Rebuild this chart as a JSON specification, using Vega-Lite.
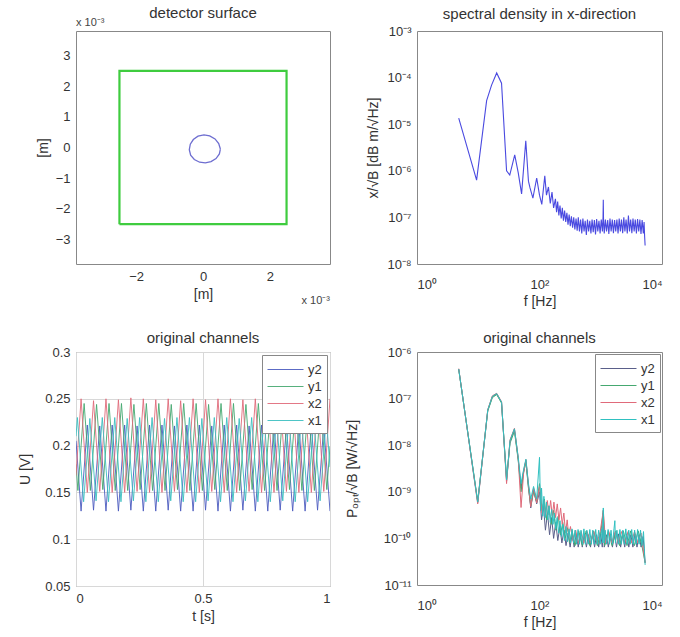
{
  "$schema": "https://vega.github.io/schema/vega-lite/v6.json",
  "background": "white",
  "padding": {"left": 18, "top": 5, "right": 5, "bottom": 5},
  "config": {
    "font": "Liberation Sans",
    "view": {"stroke": "#888", "strokeWidth": 1},
    "axis": {"grid": false, "ticks": false, "domain": false, "labelFontSize": 13, "titleFontSize": 14, "titleFontWeight": "normal", "labelColor": "#333", "titleColor": "#333", "labelPadding": 6, "labelOverlap": false},
    "title": {"fontSize": 15, "fontWeight": "normal", "color": "#333", "frame": "group"}
  },
  "datasets": {
    "square": [
      {"x": -2.5, "y": -2.5, "i": 0}, {"x": 2.5, "y": -2.5, "i": 1}, {"x": 2.5, "y": 2.5, "i": 2}, {"x": -2.5, "y": 2.5, "i": 3}, {"x": -2.5, "y": -2.5, "i": 4}
    ],
    "circle": [
      {"x": 0.52, "y": -0.05, "i": 0}, {"x": 0.47, "y": 0.13, "i": 1}, {"x": 0.36, "y": 0.28, "i": 2}, {"x": 0.2, "y": 0.38, "i": 3},
      {"x": 0.03, "y": 0.41, "i": 4}, {"x": -0.15, "y": 0.37, "i": 5}, {"x": -0.29, "y": 0.26, "i": 6}, {"x": -0.38, "y": 0.11, "i": 7},
      {"x": -0.41, "y": -0.07, "i": 8}, {"x": -0.37, "y": -0.25, "i": 9}, {"x": -0.26, "y": -0.39, "i": 10}, {"x": -0.1, "y": -0.48, "i": 11},
      {"x": 0.07, "y": -0.5, "i": 12}, {"x": 0.24, "y": -0.46, "i": 13}, {"x": 0.39, "y": -0.36, "i": 14}, {"x": 0.49, "y": -0.21, "i": 15},
      {"x": 0.52, "y": -0.05, "i": 16}
    ],
    "tr": [
      {"f": 4.8, "v": 1.35e-5}, {"f": 9.4, "v": 6.3e-7}, {"f": 13.7, "v": 3.2e-5}, {"f": 16.5, "v": 6.9e-5}, {"f": 20, "v": 1.26e-4},
      {"f": 24, "v": 7.6e-5}, {"f": 29, "v": 1.0e-6}, {"f": 32.7, "v": 8.1e-7}, {"f": 39.4, "v": 2.2e-6}, {"f": 45, "v": 9e-7},
      {"f": 51, "v": 3.2e-7}, {"f": 59.7, "v": 4.4e-6}, {"f": 66, "v": 6e-7}, {"f": 70, "v": 4.3e-7}, {"f": 78, "v": 2.6e-7},
      {"f": 90, "v": 7e-7}, {"f": 100, "v": 3e-7}, {"f": 109, "v": 1.9e-7}, {"f": 122, "v": 7.8e-7}, {"f": 130, "v": 3e-7},
      {"f": 140, "v": 4.5e-7}, {"f": 150, "v": 2e-7}, {"f": 160, "v": 3.5e-7}, {"f": 170, "v": 1.6e-7}, {"f": 182, "v": 2.5e-7},
      {"f": 190, "v": 1.3e-7}, {"f": 198, "v": 2.2e-7}, {"f": 207, "v": 1.1e-7}, {"f": 216, "v": 1.8e-7}, {"f": 226, "v": 9.5e-8},
      {"f": 236, "v": 1.6e-7}, {"f": 246, "v": 8.5e-8}, {"f": 257, "v": 1.4e-7}, {"f": 268, "v": 8e-8}, {"f": 280, "v": 1.25e-7},
      {"f": 292, "v": 7e-8}, {"f": 305, "v": 1.15e-7}, {"f": 318, "v": 6.5e-8}, {"f": 332, "v": 1.05e-7}, {"f": 347, "v": 6e-8},
      {"f": 362, "v": 1.0e-7}, {"f": 378, "v": 5.5e-8}, {"f": 395, "v": 9.5e-8}, {"f": 412, "v": 5.2e-8}, {"f": 430, "v": 1.0e-7},
      {"f": 449, "v": 5e-8}, {"f": 469, "v": 9e-8}, {"f": 490, "v": 4.5e-8}, {"f": 511, "v": 9.5e-8}, {"f": 534, "v": 5e-8},
      {"f": 557, "v": 8.5e-8}, {"f": 582, "v": 4.2e-8}, {"f": 607, "v": 9e-8}, {"f": 634, "v": 5e-8}, {"f": 662, "v": 8.5e-8},
      {"f": 691, "v": 4.5e-8}, {"f": 722, "v": 9e-8}, {"f": 753, "v": 4.8e-8}, {"f": 787, "v": 8.8e-8}, {"f": 821, "v": 4.3e-8},
      {"f": 857, "v": 9.2e-8}, {"f": 895, "v": 5e-8}, {"f": 935, "v": 8.5e-8}, {"f": 976, "v": 4.5e-8}, {"f": 1019, "v": 9e-8},
      {"f": 1064, "v": 5e-8}, {"f": 1090, "v": 1.0e-7}, {"f": 1100, "v": 2.4e-7}, {"f": 1110, "v": 9e-8}, {"f": 1140, "v": 4.5e-8},
      {"f": 1190, "v": 9e-8}, {"f": 1243, "v": 5e-8}, {"f": 1298, "v": 8.8e-8}, {"f": 1355, "v": 4.4e-8}, {"f": 1415, "v": 9.5e-8},
      {"f": 1478, "v": 5e-8}, {"f": 1543, "v": 9e-8}, {"f": 1611, "v": 4.6e-8}, {"f": 1682, "v": 8.8e-8}, {"f": 1757, "v": 5e-8},
      {"f": 1835, "v": 9e-8}, {"f": 1916, "v": 4.5e-8}, {"f": 2000, "v": 9.5e-8}, {"f": 2090, "v": 5e-8}, {"f": 2180, "v": 9e-8},
      {"f": 2280, "v": 4.6e-8}, {"f": 2380, "v": 1.0e-7}, {"f": 2480, "v": 5e-8}, {"f": 2590, "v": 9e-8}, {"f": 2710, "v": 4.5e-8},
      {"f": 2830, "v": 1.1e-7}, {"f": 2950, "v": 5e-8}, {"f": 3080, "v": 9e-8}, {"f": 3220, "v": 4.6e-8}, {"f": 3360, "v": 9.5e-8},
      {"f": 3510, "v": 5e-8}, {"f": 3660, "v": 9e-8}, {"f": 3820, "v": 4.5e-8}, {"f": 3990, "v": 9.2e-8}, {"f": 4170, "v": 5e-8},
      {"f": 4350, "v": 9e-8}, {"f": 4540, "v": 4.4e-8}, {"f": 4740, "v": 8.8e-8}, {"f": 4950, "v": 4.5e-8}, {"f": 5100, "v": 8e-8},
      {"f": 5200, "v": 4e-8}, {"f": 5300, "v": 2.5e-8}
    ],
    "bl": [
      {"c": "y2", "t": 0, "u": 0.205}, {"c": "y2", "t": 0.02, "u": 0.13}, {"c": "y2", "t": 0.0445, "u": 0.222}, {"c": "y2", "t": 0.069, "u": 0.131}, {"c": "y2", "t": 0.0935, "u": 0.221},
      {"c": "y2", "t": 0.118, "u": 0.13}, {"c": "y2", "t": 0.1425, "u": 0.222}, {"c": "y2", "t": 0.167, "u": 0.13}, {"c": "y2", "t": 0.1915, "u": 0.222}, {"c": "y2", "t": 0.216, "u": 0.131},
      {"c": "y2", "t": 0.2405, "u": 0.221}, {"c": "y2", "t": 0.265, "u": 0.13}, {"c": "y2", "t": 0.2895, "u": 0.222}, {"c": "y2", "t": 0.314, "u": 0.13}, {"c": "y2", "t": 0.3385, "u": 0.222},
      {"c": "y2", "t": 0.363, "u": 0.131}, {"c": "y2", "t": 0.3875, "u": 0.221}, {"c": "y2", "t": 0.412, "u": 0.13}, {"c": "y2", "t": 0.4365, "u": 0.222}, {"c": "y2", "t": 0.461, "u": 0.13},
      {"c": "y2", "t": 0.4855, "u": 0.222}, {"c": "y2", "t": 0.51, "u": 0.131}, {"c": "y2", "t": 0.5345, "u": 0.221}, {"c": "y2", "t": 0.559, "u": 0.13}, {"c": "y2", "t": 0.5835, "u": 0.222},
      {"c": "y2", "t": 0.608, "u": 0.13}, {"c": "y2", "t": 0.6325, "u": 0.222}, {"c": "y2", "t": 0.657, "u": 0.131}, {"c": "y2", "t": 0.6815, "u": 0.221}, {"c": "y2", "t": 0.706, "u": 0.13},
      {"c": "y2", "t": 0.7305, "u": 0.222}, {"c": "y2", "t": 0.755, "u": 0.13}, {"c": "y2", "t": 0.7795, "u": 0.222}, {"c": "y2", "t": 0.804, "u": 0.131}, {"c": "y2", "t": 0.8285, "u": 0.221},
      {"c": "y2", "t": 0.853, "u": 0.13}, {"c": "y2", "t": 0.8775, "u": 0.222}, {"c": "y2", "t": 0.902, "u": 0.13}, {"c": "y2", "t": 0.9265, "u": 0.222}, {"c": "y2", "t": 0.951, "u": 0.131},
      {"c": "y2", "t": 0.9755, "u": 0.221}, {"c": "y2", "t": 1.0, "u": 0.13},
      {"c": "y1", "t": 0, "u": 0.18}, {"c": "y1", "t": 0.0075, "u": 0.152}, {"c": "y1", "t": 0.032, "u": 0.245}, {"c": "y1", "t": 0.0565, "u": 0.152}, {"c": "y1", "t": 0.081, "u": 0.244},
      {"c": "y1", "t": 0.1055, "u": 0.153}, {"c": "y1", "t": 0.13, "u": 0.245}, {"c": "y1", "t": 0.1545, "u": 0.152}, {"c": "y1", "t": 0.179, "u": 0.245}, {"c": "y1", "t": 0.2035, "u": 0.152},
      {"c": "y1", "t": 0.228, "u": 0.244}, {"c": "y1", "t": 0.2525, "u": 0.153}, {"c": "y1", "t": 0.277, "u": 0.245}, {"c": "y1", "t": 0.3015, "u": 0.152}, {"c": "y1", "t": 0.326, "u": 0.245},
      {"c": "y1", "t": 0.3505, "u": 0.152}, {"c": "y1", "t": 0.375, "u": 0.244}, {"c": "y1", "t": 0.3995, "u": 0.153}, {"c": "y1", "t": 0.424, "u": 0.245}, {"c": "y1", "t": 0.4485, "u": 0.152},
      {"c": "y1", "t": 0.473, "u": 0.245}, {"c": "y1", "t": 0.4975, "u": 0.152}, {"c": "y1", "t": 0.522, "u": 0.244}, {"c": "y1", "t": 0.5465, "u": 0.153}, {"c": "y1", "t": 0.571, "u": 0.245},
      {"c": "y1", "t": 0.5955, "u": 0.152}, {"c": "y1", "t": 0.62, "u": 0.245}, {"c": "y1", "t": 0.6445, "u": 0.152}, {"c": "y1", "t": 0.669, "u": 0.244}, {"c": "y1", "t": 0.6935, "u": 0.153},
      {"c": "y1", "t": 0.718, "u": 0.245}, {"c": "y1", "t": 0.7425, "u": 0.152}, {"c": "y1", "t": 0.767, "u": 0.245}, {"c": "y1", "t": 0.7915, "u": 0.152}, {"c": "y1", "t": 0.816, "u": 0.244},
      {"c": "y1", "t": 0.8405, "u": 0.153}, {"c": "y1", "t": 0.865, "u": 0.245}, {"c": "y1", "t": 0.8895, "u": 0.152}, {"c": "y1", "t": 0.914, "u": 0.245}, {"c": "y1", "t": 0.9385, "u": 0.152},
      {"c": "y1", "t": 0.963, "u": 0.244}, {"c": "y1", "t": 0.9875, "u": 0.153}, {"c": "y1", "t": 1.0, "u": 0.199},
      {"c": "x2", "t": 0, "u": 0.168}, {"c": "x2", "t": 0.02, "u": 0.25}, {"c": "x2", "t": 0.0445, "u": 0.15}, {"c": "x2", "t": 0.069, "u": 0.248}, {"c": "x2", "t": 0.0935, "u": 0.151},
      {"c": "x2", "t": 0.118, "u": 0.25}, {"c": "x2", "t": 0.1425, "u": 0.15}, {"c": "x2", "t": 0.167, "u": 0.249}, {"c": "x2", "t": 0.1915, "u": 0.15}, {"c": "x2", "t": 0.216, "u": 0.251},
      {"c": "x2", "t": 0.2405, "u": 0.151}, {"c": "x2", "t": 0.265, "u": 0.25}, {"c": "x2", "t": 0.2895, "u": 0.15}, {"c": "x2", "t": 0.314, "u": 0.249}, {"c": "x2", "t": 0.3385, "u": 0.15},
      {"c": "x2", "t": 0.363, "u": 0.25}, {"c": "x2", "t": 0.3875, "u": 0.151}, {"c": "x2", "t": 0.412, "u": 0.248}, {"c": "x2", "t": 0.4365, "u": 0.15}, {"c": "x2", "t": 0.461, "u": 0.25},
      {"c": "x2", "t": 0.4855, "u": 0.15}, {"c": "x2", "t": 0.51, "u": 0.249}, {"c": "x2", "t": 0.5345, "u": 0.151}, {"c": "x2", "t": 0.559, "u": 0.25}, {"c": "x2", "t": 0.5835, "u": 0.15},
      {"c": "x2", "t": 0.608, "u": 0.25}, {"c": "x2", "t": 0.6325, "u": 0.15}, {"c": "x2", "t": 0.657, "u": 0.249}, {"c": "x2", "t": 0.6815, "u": 0.151}, {"c": "x2", "t": 0.706, "u": 0.25},
      {"c": "x2", "t": 0.7305, "u": 0.15}, {"c": "x2", "t": 0.755, "u": 0.248}, {"c": "x2", "t": 0.7795, "u": 0.15}, {"c": "x2", "t": 0.804, "u": 0.25}, {"c": "x2", "t": 0.8285, "u": 0.151},
      {"c": "x2", "t": 0.853, "u": 0.25}, {"c": "x2", "t": 0.8775, "u": 0.15}, {"c": "x2", "t": 0.902, "u": 0.249}, {"c": "x2", "t": 0.9265, "u": 0.15}, {"c": "x2", "t": 0.951, "u": 0.25},
      {"c": "x2", "t": 0.9755, "u": 0.151}, {"c": "x2", "t": 1.0, "u": 0.25},
      {"c": "x1", "t": 0, "u": 0.21}, {"c": "x1", "t": 0.0055, "u": 0.23}, {"c": "x1", "t": 0.03, "u": 0.14}, {"c": "x1", "t": 0.0545, "u": 0.229}, {"c": "x1", "t": 0.079, "u": 0.141},
      {"c": "x1", "t": 0.1035, "u": 0.23}, {"c": "x1", "t": 0.128, "u": 0.14}, {"c": "x1", "t": 0.1525, "u": 0.23}, {"c": "x1", "t": 0.177, "u": 0.14}, {"c": "x1", "t": 0.2015, "u": 0.229},
      {"c": "x1", "t": 0.226, "u": 0.141}, {"c": "x1", "t": 0.2505, "u": 0.23}, {"c": "x1", "t": 0.275, "u": 0.14}, {"c": "x1", "t": 0.2995, "u": 0.23}, {"c": "x1", "t": 0.324, "u": 0.14},
      {"c": "x1", "t": 0.3485, "u": 0.229}, {"c": "x1", "t": 0.373, "u": 0.141}, {"c": "x1", "t": 0.3975, "u": 0.23}, {"c": "x1", "t": 0.422, "u": 0.14}, {"c": "x1", "t": 0.4465, "u": 0.23},
      {"c": "x1", "t": 0.471, "u": 0.14}, {"c": "x1", "t": 0.4955, "u": 0.229}, {"c": "x1", "t": 0.52, "u": 0.141}, {"c": "x1", "t": 0.5445, "u": 0.23}, {"c": "x1", "t": 0.569, "u": 0.14},
      {"c": "x1", "t": 0.5935, "u": 0.23}, {"c": "x1", "t": 0.618, "u": 0.14}, {"c": "x1", "t": 0.6425, "u": 0.229}, {"c": "x1", "t": 0.667, "u": 0.141}, {"c": "x1", "t": 0.6915, "u": 0.23},
      {"c": "x1", "t": 0.716, "u": 0.14}, {"c": "x1", "t": 0.7405, "u": 0.23}, {"c": "x1", "t": 0.765, "u": 0.14}, {"c": "x1", "t": 0.7895, "u": 0.229}, {"c": "x1", "t": 0.814, "u": 0.141},
      {"c": "x1", "t": 0.8385, "u": 0.23}, {"c": "x1", "t": 0.863, "u": 0.14}, {"c": "x1", "t": 0.8875, "u": 0.23}, {"c": "x1", "t": 0.912, "u": 0.14}, {"c": "x1", "t": 0.9365, "u": 0.229},
      {"c": "x1", "t": 0.961, "u": 0.141}, {"c": "x1", "t": 0.9855, "u": 0.23}, {"c": "x1", "t": 1.0, "u": 0.177}
    ],
    "br": [
      {"c": "y2", "f": 4.8, "p": 4.3e-7}, {"c": "y2", "f": 9.8, "p": 5.9e-10}, {"c": "y2", "f": 14.3, "p": 5.6e-8}, {"c": "y2", "f": 17, "p": 1.1e-7}, {"c": "y2", "f": 20, "p": 1.26e-7},
      {"c": "y2", "f": 24, "p": 8.3e-8}, {"c": "y2", "f": 29, "p": 1.7e-9}, {"c": "y2", "f": 33, "p": 1.2e-8}, {"c": "y2", "f": 39, "p": 2.2e-8}, {"c": "y2", "f": 45, "p": 5e-9},
      {"c": "y2", "f": 50, "p": 1.2e-9}, {"c": "y2", "f": 55, "p": 2.8e-9}, {"c": "y2", "f": 60, "p": 4.7e-9}, {"c": "y2", "f": 66, "p": 1.3e-9}, {"c": "y2", "f": 72, "p": 4.5e-10},
      {"c": "y2", "f": 80, "p": 1.1e-9}, {"c": "y2", "f": 90, "p": 5.5e-10}, {"c": "y2", "f": 100, "p": 1.0e-9}, {"c": "y2", "f": 108, "p": 2.5e-10}, {"c": "y2", "f": 116, "p": 5e-10},
      {"c": "y2", "f": 125, "p": 1.5e-10}, {"c": "y2", "f": 135, "p": 3.5e-10}, {"c": "y2", "f": 146, "p": 1.2e-10}, {"c": "y2", "f": 158, "p": 2.8e-10}, {"c": "y2", "f": 170, "p": 1e-10},
      {"c": "y2", "f": 184, "p": 2.2e-10}, {"c": "y2", "f": 199, "p": 9e-11}, {"c": "y2", "f": 215, "p": 1.8e-10}, {"c": "y2", "f": 232, "p": 8e-11}, {"c": "y2", "f": 251, "p": 1.5e-10},
      {"c": "y2", "f": 271, "p": 7e-11}, {"c": "y2", "f": 293, "p": 1.3e-10}, {"c": "y2", "f": 316, "p": 6.5e-11}, {"c": "y2", "f": 341, "p": 1.25e-10}, {"c": "y2", "f": 368, "p": 6.5e-11},
      {"c": "y2", "f": 397, "p": 1.25e-10}, {"c": "y2", "f": 429, "p": 6.5e-11}, {"c": "y2", "f": 463, "p": 1.2e-10}, {"c": "y2", "f": 500, "p": 6.5e-11}, {"c": "y2", "f": 540, "p": 1.25e-10},
      {"c": "y2", "f": 583, "p": 6.5e-11}, {"c": "y2", "f": 630, "p": 1.2e-10}, {"c": "y2", "f": 680, "p": 6.5e-11}, {"c": "y2", "f": 734, "p": 1.25e-10}, {"c": "y2", "f": 793, "p": 6.5e-11},
      {"c": "y2", "f": 856, "p": 1.2e-10}, {"c": "y2", "f": 925, "p": 6.5e-11}, {"c": "y2", "f": 999, "p": 1.25e-10}, {"c": "y2", "f": 1060, "p": 6.5e-11}, {"c": "y2", "f": 1100, "p": 3.5e-10},
      {"c": "y2", "f": 1140, "p": 6.5e-11}, {"c": "y2", "f": 1230, "p": 1.2e-10}, {"c": "y2", "f": 1330, "p": 6.5e-11}, {"c": "y2", "f": 1436, "p": 1.25e-10}, {"c": "y2", "f": 1551, "p": 6.5e-11},
      {"c": "y2", "f": 1675, "p": 1.2e-10}, {"c": "y2", "f": 1809, "p": 6.5e-11}, {"c": "y2", "f": 1954, "p": 1.25e-10}, {"c": "y2", "f": 2110, "p": 6.5e-11}, {"c": "y2", "f": 2279, "p": 1.2e-10},
      {"c": "y2", "f": 2461, "p": 6.5e-11}, {"c": "y2", "f": 2658, "p": 1.25e-10}, {"c": "y2", "f": 2871, "p": 6.5e-11}, {"c": "y2", "f": 3100, "p": 1.2e-10}, {"c": "y2", "f": 3349, "p": 6.5e-11},
      {"c": "y2", "f": 3617, "p": 1.25e-10}, {"c": "y2", "f": 3906, "p": 6.5e-11}, {"c": "y2", "f": 4219, "p": 1.2e-10}, {"c": "y2", "f": 4556, "p": 6.5e-11}, {"c": "y2", "f": 4921, "p": 1.1e-10},
      {"c": "y2", "f": 5300, "p": 3e-11},
      {"c": "y1", "f": 4.8, "p": 4.2e-7}, {"c": "y1", "f": 9.8, "p": 6.3e-10}, {"c": "y1", "f": 14.3, "p": 5.4e-8}, {"c": "y1", "f": 17, "p": 1.05e-7}, {"c": "y1", "f": 20, "p": 1.22e-7},
      {"c": "y1", "f": 24, "p": 8e-8}, {"c": "y1", "f": 29, "p": 1.9e-9}, {"c": "y1", "f": 33, "p": 1.1e-8}, {"c": "y1", "f": 39, "p": 2.0e-8}, {"c": "y1", "f": 45, "p": 4.6e-9},
      {"c": "y1", "f": 50, "p": 1.0e-9}, {"c": "y1", "f": 55, "p": 2.6e-9}, {"c": "y1", "f": 60, "p": 4.3e-9}, {"c": "y1", "f": 66, "p": 1.2e-9}, {"c": "y1", "f": 72, "p": 5e-10},
      {"c": "y1", "f": 80, "p": 1.0e-9}, {"c": "y1", "f": 90, "p": 6e-10}, {"c": "y1", "f": 100, "p": 1.5e-9}, {"c": "y1", "f": 110, "p": 4e-10}, {"c": "y1", "f": 120, "p": 7e-10},
      {"c": "y1", "f": 130, "p": 2.5e-10}, {"c": "y1", "f": 142, "p": 5e-10}, {"c": "y1", "f": 155, "p": 2e-10}, {"c": "y1", "f": 169, "p": 4e-10}, {"c": "y1", "f": 185, "p": 1.5e-10},
      {"c": "y1", "f": 202, "p": 3e-10}, {"c": "y1", "f": 220, "p": 1.2e-10}, {"c": "y1", "f": 240, "p": 2.2e-10}, {"c": "y1", "f": 262, "p": 1e-10}, {"c": "y1", "f": 286, "p": 1.7e-10},
      {"c": "y1", "f": 312, "p": 8e-11}, {"c": "y1", "f": 340, "p": 1.5e-10}, {"c": "y1", "f": 380, "p": 7e-11}, {"c": "y1", "f": 437, "p": 1.45e-10}, {"c": "y1", "f": 503, "p": 7e-11},
      {"c": "y1", "f": 578, "p": 1.45e-10}, {"c": "y1", "f": 665, "p": 7e-11}, {"c": "y1", "f": 765, "p": 1.45e-10}, {"c": "y1", "f": 880, "p": 7e-11}, {"c": "y1", "f": 1012, "p": 1.45e-10},
      {"c": "y1", "f": 1100, "p": 4e-10}, {"c": "y1", "f": 1160, "p": 7e-11}, {"c": "y1", "f": 1334, "p": 1.45e-10}, {"c": "y1", "f": 1534, "p": 7e-11}, {"c": "y1", "f": 1764, "p": 1.45e-10},
      {"c": "y1", "f": 2029, "p": 7e-11}, {"c": "y1", "f": 2333, "p": 1.45e-10}, {"c": "y1", "f": 2683, "p": 7e-11}, {"c": "y1", "f": 3086, "p": 1.45e-10}, {"c": "y1", "f": 3549, "p": 7e-11},
      {"c": "y1", "f": 4081, "p": 1.45e-10}, {"c": "y1", "f": 4693, "p": 7e-11}, {"c": "y1", "f": 5300, "p": 3e-11},
      {"c": "x2", "f": 4.8, "p": 4.4e-7}, {"c": "x2", "f": 9.8, "p": 5.5e-10}, {"c": "x2", "f": 14.3, "p": 5.8e-8}, {"c": "x2", "f": 17, "p": 1.15e-7}, {"c": "x2", "f": 20, "p": 1.3e-7},
      {"c": "x2", "f": 24, "p": 8.6e-8}, {"c": "x2", "f": 29, "p": 1.5e-9}, {"c": "x2", "f": 33, "p": 1.3e-8}, {"c": "x2", "f": 39, "p": 2.3e-8}, {"c": "x2", "f": 45, "p": 5.2e-9},
      {"c": "x2", "f": 50, "p": 4.6e-10}, {"c": "x2", "f": 55, "p": 2.5e-9}, {"c": "x2", "f": 60, "p": 4.9e-9}, {"c": "x2", "f": 66, "p": 1.4e-9}, {"c": "x2", "f": 72, "p": 4.8e-10},
      {"c": "x2", "f": 80, "p": 1.2e-9}, {"c": "x2", "f": 90, "p": 5.8e-10}, {"c": "x2", "f": 100, "p": 1.3e-9}, {"c": "x2", "f": 110, "p": 3.5e-10}, {"c": "x2", "f": 118, "p": 6.5e-10},
      {"c": "x2", "f": 126, "p": 3e-10}, {"c": "x2", "f": 134, "p": 6.5e-10}, {"c": "x2", "f": 143, "p": 3.2e-10}, {"c": "x2", "f": 152, "p": 6.5e-10}, {"c": "x2", "f": 162, "p": 3e-10},
      {"c": "x2", "f": 172, "p": 6e-10}, {"c": "x2", "f": 183, "p": 2.8e-10}, {"c": "x2", "f": 195, "p": 5.5e-10}, {"c": "x2", "f": 208, "p": 2.5e-10}, {"c": "x2", "f": 221, "p": 4.5e-10},
      {"c": "x2", "f": 235, "p": 2e-10}, {"c": "x2", "f": 250, "p": 3.5e-10}, {"c": "x2", "f": 266, "p": 1.3e-10}, {"c": "x2", "f": 283, "p": 2.5e-10}, {"c": "x2", "f": 301, "p": 1.1e-10},
      {"c": "x2", "f": 320, "p": 1.8e-10}, {"c": "x2", "f": 350, "p": 9e-11}, {"c": "x2", "f": 390, "p": 1.5e-10}, {"c": "x2", "f": 430, "p": 8e-11}, {"c": "x2", "f": 480, "p": 1.4e-10},
      {"c": "x2", "f": 530, "p": 8e-11}, {"c": "x2", "f": 600, "p": 1.4e-10}, {"c": "x2", "f": 680, "p": 8e-11}, {"c": "x2", "f": 770, "p": 1.4e-10}, {"c": "x2", "f": 870, "p": 8e-11},
      {"c": "x2", "f": 980, "p": 1.4e-10}, {"c": "x2", "f": 1100, "p": 4e-10}, {"c": "x2", "f": 1200, "p": 8e-11}, {"c": "x2", "f": 1350, "p": 1.4e-10}, {"c": "x2", "f": 1520, "p": 8e-11},
      {"c": "x2", "f": 1720, "p": 1.4e-10}, {"c": "x2", "f": 1940, "p": 8e-11}, {"c": "x2", "f": 2190, "p": 1.4e-10}, {"c": "x2", "f": 2470, "p": 8e-11}, {"c": "x2", "f": 2790, "p": 1.4e-10},
      {"c": "x2", "f": 3150, "p": 8e-11}, {"c": "x2", "f": 3560, "p": 1.4e-10}, {"c": "x2", "f": 4020, "p": 8e-11}, {"c": "x2", "f": 4540, "p": 1.3e-10}, {"c": "x2", "f": 5300, "p": 3e-11},
      {"c": "x1", "f": 4.8, "p": 4.3e-7}, {"c": "x1", "f": 9.8, "p": 6e-10}, {"c": "x1", "f": 14.3, "p": 5.7e-8}, {"c": "x1", "f": 17, "p": 1.12e-7}, {"c": "x1", "f": 20, "p": 1.28e-7},
      {"c": "x1", "f": 24, "p": 8.4e-8}, {"c": "x1", "f": 29, "p": 1.8e-9}, {"c": "x1", "f": 33, "p": 1.25e-8}, {"c": "x1", "f": 39, "p": 2.25e-8}, {"c": "x1", "f": 45, "p": 5.5e-9},
      {"c": "x1", "f": 50, "p": 1.5e-9}, {"c": "x1", "f": 55, "p": 3e-9}, {"c": "x1", "f": 60, "p": 5e-9}, {"c": "x1", "f": 66, "p": 1.5e-9}, {"c": "x1", "f": 72, "p": 7e-10},
      {"c": "x1", "f": 80, "p": 1.3e-9}, {"c": "x1", "f": 90, "p": 7e-10}, {"c": "x1", "f": 100, "p": 5.5e-9}, {"c": "x1", "f": 104, "p": 4e-10}, {"c": "x1", "f": 108, "p": 1.2e-9},
      {"c": "x1", "f": 113, "p": 3e-10}, {"c": "x1", "f": 118, "p": 8e-10}, {"c": "x1", "f": 124, "p": 2.8e-10}, {"c": "x1", "f": 130, "p": 6e-10}, {"c": "x1", "f": 136, "p": 2.5e-10},
      {"c": "x1", "f": 143, "p": 5e-10}, {"c": "x1", "f": 150, "p": 2.2e-10}, {"c": "x1", "f": 158, "p": 4.2e-10}, {"c": "x1", "f": 166, "p": 2e-10}, {"c": "x1", "f": 175, "p": 3.5e-10},
      {"c": "x1", "f": 184, "p": 1.6e-10}, {"c": "x1", "f": 194, "p": 2.8e-10}, {"c": "x1", "f": 205, "p": 1.3e-10}, {"c": "x1", "f": 216, "p": 2.4e-10}, {"c": "x1", "f": 228, "p": 1.1e-10},
      {"c": "x1", "f": 241, "p": 2.0e-10}, {"c": "x1", "f": 255, "p": 9e-11}, {"c": "x1", "f": 270, "p": 1.8e-10}, {"c": "x1", "f": 286, "p": 8.5e-11}, {"c": "x1", "f": 303, "p": 1.6e-10},
      {"c": "x1", "f": 321, "p": 8e-11}, {"c": "x1", "f": 340, "p": 1.6e-10}, {"c": "x1", "f": 360, "p": 8e-11}, {"c": "x1", "f": 381, "p": 1.5e-10}, {"c": "x1", "f": 403, "p": 7.5e-11},
      {"c": "x1", "f": 426, "p": 1.55e-10}, {"c": "x1", "f": 450, "p": 7.5e-11}, {"c": "x1", "f": 476, "p": 1.5e-10}, {"c": "x1", "f": 503, "p": 7.5e-11}, {"c": "x1", "f": 531, "p": 1.6e-10},
      {"c": "x1", "f": 561, "p": 7.5e-11}, {"c": "x1", "f": 593, "p": 1.5e-10}, {"c": "x1", "f": 627, "p": 7.5e-11}, {"c": "x1", "f": 663, "p": 1.55e-10}, {"c": "x1", "f": 701, "p": 7.5e-11},
      {"c": "x1", "f": 741, "p": 1.5e-10}, {"c": "x1", "f": 783, "p": 7.5e-11}, {"c": "x1", "f": 827, "p": 1.55e-10}, {"c": "x1", "f": 874, "p": 7.5e-11}, {"c": "x1", "f": 924, "p": 1.5e-10},
      {"c": "x1", "f": 977, "p": 7.5e-11}, {"c": "x1", "f": 1033, "p": 1.6e-10}, {"c": "x1", "f": 1070, "p": 8e-11}, {"c": "x1", "f": 1100, "p": 4.5e-10}, {"c": "x1", "f": 1130, "p": 8e-11},
      {"c": "x1", "f": 1180, "p": 1.5e-10}, {"c": "x1", "f": 1247, "p": 7.5e-11}, {"c": "x1", "f": 1318, "p": 1.55e-10}, {"c": "x1", "f": 1393, "p": 7.5e-11}, {"c": "x1", "f": 1472, "p": 1.5e-10},
      {"c": "x1", "f": 1556, "p": 7.5e-11}, {"c": "x1", "f": 1645, "p": 1.6e-10}, {"c": "x1", "f": 1700, "p": 2.4e-10}, {"c": "x1", "f": 1740, "p": 8e-11}, {"c": "x1", "f": 1838, "p": 1.5e-10},
      {"c": "x1", "f": 1943, "p": 7.5e-11}, {"c": "x1", "f": 2054, "p": 1.55e-10}, {"c": "x1", "f": 2171, "p": 7.5e-11}, {"c": "x1", "f": 2295, "p": 1.5e-10}, {"c": "x1", "f": 2426, "p": 7.5e-11},
      {"c": "x1", "f": 2564, "p": 1.6e-10}, {"c": "x1", "f": 2710, "p": 7.5e-11}, {"c": "x1", "f": 2865, "p": 1.5e-10}, {"c": "x1", "f": 3028, "p": 7.5e-11}, {"c": "x1", "f": 3200, "p": 1.55e-10},
      {"c": "x1", "f": 3383, "p": 7.5e-11}, {"c": "x1", "f": 3576, "p": 1.5e-10}, {"c": "x1", "f": 3780, "p": 7.5e-11}, {"c": "x1", "f": 3995, "p": 1.55e-10}, {"c": "x1", "f": 4223, "p": 7.5e-11},
      {"c": "x1", "f": 4464, "p": 1.5e-10}, {"c": "x1", "f": 4718, "p": 7e-11}, {"c": "x1", "f": 4987, "p": 1.4e-10}, {"c": "x1", "f": 5150, "p": 6e-11}, {"c": "x1", "f": 5300, "p": 2.7e-11}
    ]
  },
  "bounds": "flush",
  "columns": 2,
  "spacing": {"row": 88, "column": 87},
  "resolve": {"scale": {"color": "independent"}, "legend": {"color": "independent"}},
  "concat": [
    {
      "width": 254, "height": 233,
      "title": {"text": "detector surface", "offset": 3, "dy": 7, "frame": "group"},
      "encoding": {
        "x": {"field": "x", "type": "quantitative", "scale": {"domain": [-3.8, 3.8], "nice": false, "zero": false}, "axis": {"values": [-2, 0, 2], "title": "[m]", "titlePadding": 4, "labelOverlap": false}},
        "y": {"field": "y", "type": "quantitative", "scale": {"domain": [-3.8, 3.8], "nice": false, "zero": false}, "axis": {"values": [-3, -2, -1, 0, 1, 2, 3], "tickCount": 7, "title": "[m]", "titlePadding": 5, "labelOverlap": false}}
      },
      "layer": [
        {
          "data": {"name": "square"},
          "mark": {"type": "line", "color": "#3fcc3f", "strokeWidth": 2.2},
          "encoding": {"order": {"field": "i", "type": "quantitative"}}
        },
        {
          "data": {"name": "circle"},
          "mark": {"type": "line", "color": "#6e6ed0", "strokeWidth": 1.3},
          "encoding": {"order": {"field": "i", "type": "quantitative"}}
        },
        {
          "data": {"values": [{"x": -3.8, "y": 3.8, "t": "x 10⁻³"}]},
          "mark": {"type": "text", "align": "left", "baseline": "bottom", "dy": -3, "fontSize": 11, "color": "#444"},
          "encoding": {"text": {"field": "t"}}
        },
        {
          "data": {"values": [{"x": 3.8, "y": -3.8, "t": "x 10⁻³"}]},
          "mark": {"type": "text", "align": "right", "baseline": "middle", "dy": 37, "fontSize": 11, "color": "#444"},
          "encoding": {"text": {"field": "t"}}
        }
      ]
    },
    {
      "width": 245, "height": 233,
      "title": {"text": "spectral density in x-direction", "offset": 3, "frame": "group"},
      "data": {"name": "tr"},
      "mark": {"type": "line", "color": "#4a4ae0", "strokeWidth": 1.1, "clip": true},
      "encoding": {
        "x": {"field": "f", "type": "quantitative", "scale": {"type": "log", "domain": [1, 10000], "nice": false}, "axis": {"values": [1, 100, 10000], "title": "f [Hz]", "labelPadding": 14, "titlePadding": 3, "labelExpr": "'10' + (round(log(datum.value)/LN10) < 0 ? '⁻' : '') + ['⁰','¹','²','³','⁴','⁵','⁶','⁷','⁸','⁹','¹⁰','¹¹'][abs(round(log(datum.value)/LN10))]"}},
        "y": {"field": "v", "type": "quantitative", "scale": {"type": "log", "domain": [1e-8, 1e-3], "nice": false}, "axis": {"values": [1e-8, 1e-7, 1e-6, 1e-5, 1e-4, 1e-3], "title": "x/√B [dB m/√Hz]", "titlePadding": 6, "labelExpr": "'10' + (round(log(datum.value)/LN10) < 0 ? '⁻' : '') + ['⁰','¹','²','³','⁴','⁵','⁶','⁷','⁸','⁹','¹⁰','¹¹'][abs(round(log(datum.value)/LN10))]"}}
      }
    },
    {
      "width": 254, "height": 234,
      "title": {"text": "original channels", "offset": 0, "frame": "group"},
      "data": {"name": "bl"},
      "mark": {"type": "line", "strokeWidth": 1, "clip": true, "opacity": 0.9},
      "encoding": {
        "x": {"field": "t", "type": "quantitative", "scale": {"domain": [0, 1], "nice": false}, "axis": {"values": [0, 0.5, 1], "format": "~g", "title": "t [s]", "titlePadding": 4, "grid": true, "gridColor": "#d8d8d8"}},
        "y": {"field": "u", "type": "quantitative", "scale": {"domain": [0.05, 0.3], "nice": false, "zero": false}, "axis": {"values": [0.05, 0.1, 0.15, 0.2, 0.25, 0.3], "format": "~g", "title": "U [V]", "titlePadding": 12, "grid": true, "gridColor": "#d8d8d8"}},
        "color": {"field": "c", "type": "nominal", "scale": {"domain": ["y2", "y1", "x2", "x1"], "range": ["#4b5bbf", "#45a870", "#e06a7a", "#3bbfc0"]},
          "legend": {"title": null, "orient": "top-right", "offset": 3, "symbolType": "M-1,0H3", "symbolSize": 324, "symbolStrokeWidth": 1, "labelFontSize": 13, "labelColor": "#333", "labelOffset": 22, "fillColor": "white", "strokeColor": "#888", "padding": 5, "rowPadding": 0}}
      }
    },
    {
      "width": 245, "height": 233,
      "title": {"text": "original channels", "offset": 0, "frame": "group"},
      "data": {"name": "br"},
      "mark": {"type": "line", "strokeWidth": 1, "clip": true},
      "encoding": {
        "x": {"field": "f", "type": "quantitative", "scale": {"type": "log", "domain": [1, 10000], "nice": false}, "axis": {"values": [1, 100, 10000], "title": "f [Hz]", "labelPadding": 14, "titlePadding": 3, "labelExpr": "'10' + (round(log(datum.value)/LN10) < 0 ? '⁻' : '') + ['⁰','¹','²','³','⁴','⁵','⁶','⁷','⁸','⁹','¹⁰','¹¹'][abs(round(log(datum.value)/LN10))]"}},
        "y": {"field": "p", "type": "quantitative", "scale": {"type": "log", "domain": [1e-11, 1e-6], "nice": false}, "axis": {"values": [1e-11, 1e-10, 1e-9, 1e-8, 1e-7, 1e-6], "title": "Pₒₚₜ/√B [W/√Hz]", "titlePadding": 24, "labelExpr": "'10' + (round(log(datum.value)/LN10) < 0 ? '⁻' : '') + ['⁰','¹','²','³','⁴','⁵','⁶','⁷','⁸','⁹','¹⁰','¹¹'][abs(round(log(datum.value)/LN10))]"}},
        "color": {"field": "c", "type": "nominal", "scale": {"domain": ["y2", "y1", "x2", "x1"], "range": ["#5a5f8a", "#45a870", "#e06a7a", "#2fc0c0"]},
          "legend": {"title": null, "orient": "top-right", "offset": 2, "symbolType": "M-1,0H3", "symbolSize": 324, "symbolStrokeWidth": 1, "labelFontSize": 13, "labelColor": "#333", "labelOffset": 22, "fillColor": "white", "strokeColor": "#888", "padding": 5, "rowPadding": 0}}
      }
    }
  ]
}
